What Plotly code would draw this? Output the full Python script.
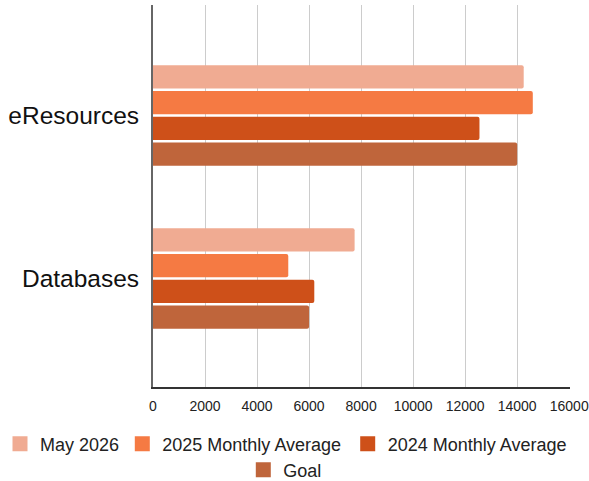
import plotly.graph_objects as go

categories = ["eResources", "Databases"]
series_names = ["May 2026", "2025 Monthly Average", "2024 Monthly Average", "Goal"]
may_2026 = [14250, 7750]
avg_2025 = [14600, 5200]
avg_2024 = [12550, 6200]
goal = [14000, 6000]
colors = ["#F0AB92", "#F57A43", "#CE5019", "#BF653B"]
x_ticks = [0, 2000, 4000, 6000, 8000, 10000, 12000, 14000, 16000]

# legend placement (container fractions): one single-entry legend per series
legend_ids = ["legend", "legend2", "legend3", "legend4"]
legend_x_px = [-1.7, 122.3, 347.7, 243.3]
legend_y_px = [444, 444, 444, 470]

fig = go.Figure()
for name, vals, col in zip(series_names, [may_2026, avg_2025, avg_2024, goal], colors):
    fig.add_trace(go.Bar(
        y=categories, x=vals, name=name, orientation="h", showlegend=False,
        marker=dict(color=col, cornerradius=2, line=dict(width=0)),
    ))
# legend-only entries with larger square swatches
for name, col, lg in zip(series_names, colors, legend_ids):
    fig.add_trace(go.Scatter(
        x=[None], y=[None], mode="markers", name=name, legend=lg, showlegend=True,
        marker=dict(symbol="square", size=15, color=col), hoverinfo="skip",
    ))

legend_common = dict(
    orientation="h", xref="container", yref="container", xanchor="left", yanchor="middle",
    font=dict(size=18, color="#222222"), bgcolor="rgba(0,0,0,0)",
)
legends = {}
for lg, lx, ly in zip(legend_ids, legend_x_px, legend_y_px):
    legends[lg] = dict(x=lx / 589, y=1 - ly / 481, **legend_common)

fig.update_layout(
    width=589, height=481,
    margin=dict(l=153, r=19, t=5, b=94, autoexpand=False),
    paper_bgcolor="white", plot_bgcolor="white",
    barmode="group", bargap=0.368, bargroupgap=0.1,
    font=dict(family="Liberation Sans, Arial, sans-serif", color="#222222"),
    xaxis=dict(
        range=[0, 16030], tickvals=x_ticks, ticktext=[str(v) for v in x_ticks],
        showgrid=True, gridcolor="#CCCCCC", gridwidth=1,
        showline=True, linecolor="#333333", linewidth=1.5,
        zeroline=False, tickfont=dict(size=14, color="#222222"),
        ticks="", ticklabelstandoff=5, automargin=False,
    ),
    yaxis=dict(
        range=[1.666, -0.678], autorange=False, type="category",
        showgrid=False, showline=True, linecolor="#666666", linewidth=2,
        tickfont=dict(size=24.5, color="#111111"), ticks="", ticklabelstandoff=7,
        automargin=False,
    ),
    showlegend=True,
    **legends,
)
fig.write_html(
    "out.html",
    config={"displayModeBar": False},
    post_script="document.body.style.margin='0';document.body.style.padding='0';",
)
